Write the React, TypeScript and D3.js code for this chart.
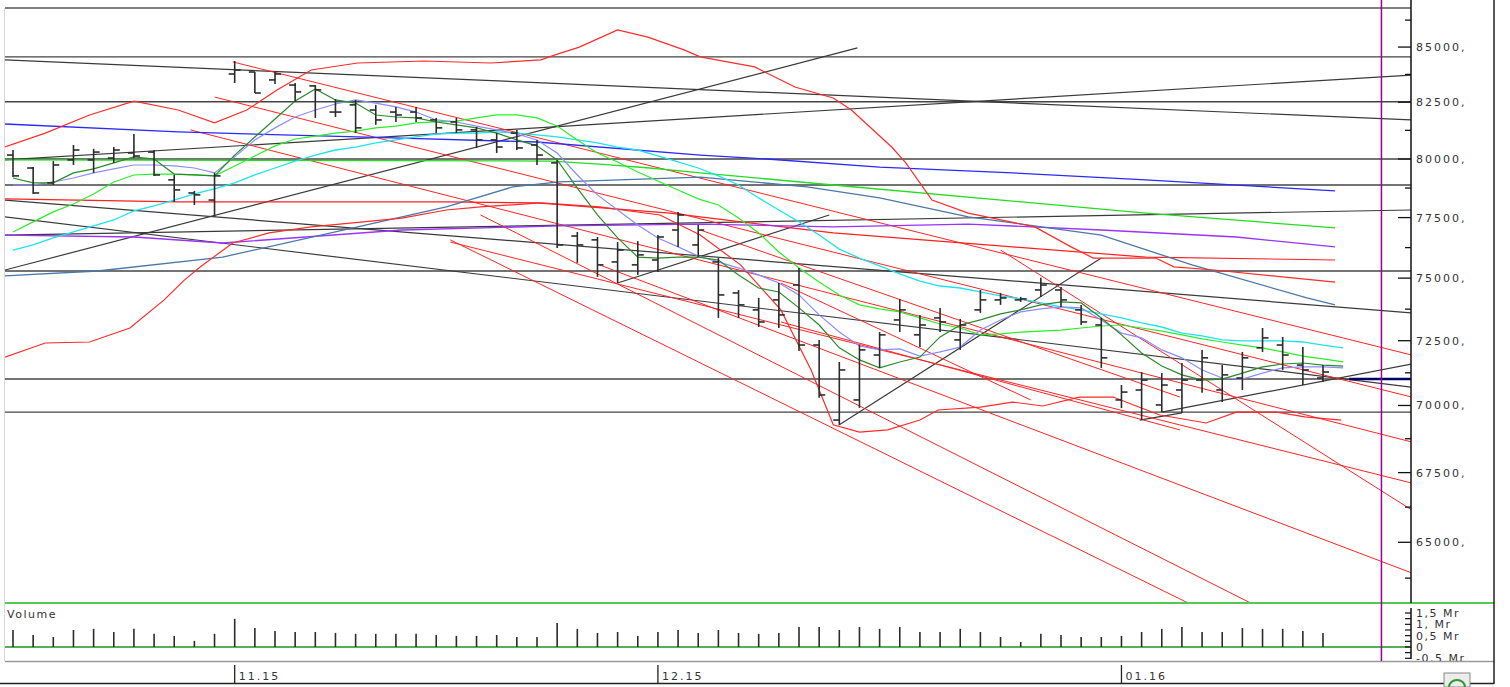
import React from "react";
import * as d3 from "d3";

type Pt = [number, number];

// daily bars, index 0 = first bar on the left
const highs = [80390, 79650, 79910, 80610, 80440, 80520, 81090, 80390, 79310, 78630, 79400, 84360, 83860, 83860, 83360, 83270, 82640, 82600, 82380, 82290, 82290, 81800, 81800, 81400, 81130, 81270, 80830, 79960, 76900, 76690, 76480, 76520, 76770, 77740, 77190, 75820, 74520, 74200, 74800, 75410, 72530, 71670, 72330, 72840, 74160, 73520, 73800, 73360, 74520, 74400, 74240, 75010, 74640, 73920, 73400, 70780, 71280, 71240, 71630, 72140, 71550, 72060, 73000, 72650, 72250, 71550];
const lows = [79220, 78500, 78880, 79740, 79400, 79830, 80040, 79270, 78160, 78030, 77530, 83360, 82910, 83320, 82510, 81800, 81840, 81130, 81490, 81620, 81620, 81130, 81130, 80480, 80260, 80390, 79740, 76230, 75620, 75050, 74800, 75130, 75250, 76280, 75870, 73400, 73400, 73040, 73000, 72100, 70290, 69260, 69910, 71440, 72840, 72250, 72840, 72140, 73600, 73920, 74040, 74240, 73840, 73120, 71440, 69900, 69450, 69750, 69720, 70480, 70130, 70590, 72060, 71360, 70780, 70900];
const opens = [80170, 79610, 78970, 79960, 79960, 80040, 80260, 80300, 79100, 78540, 78240, 83770, 83860, 83500, 83270, 83230, 82060, 82380, 82150, 82060, 82060, 81710, 81620, 81270, 80830, 81130, 80610, 79830, 76730, 76570, 75660, 75540, 75740, 76980, 76360, 75660, 74400, 73720, 74120, 74720, 72330, 69450, 70210, 71940, 73320, 72730, 73400, 72530, 73720, 74120, 74120, 74520, 74520, 73720, 73120, 70210, 70590, 70020, 70590, 70970, 70590, 71050, 72220, 72330, 71550, 71050];
const closes = [79270, 78540, 79740, 80390, 80300, 80390, 80130, 79310, 78670, 78460, 79270, 83950, 82910, 83770, 82960, 83050, 82060, 81360, 81710, 81930, 81800, 81360, 81270, 80830, 80520, 80480, 80170, 76360, 76360, 75540, 76150, 75950, 76690, 77610, 76980, 74320, 73920, 73240, 73520, 72330, 70400, 71360, 72140, 72730, 73720, 73120, 73240, 73120, 74120, 74200, 74160, 74720, 74120, 73240, 71830, 70510, 70970, 70780, 70970, 71830, 71170, 71830, 72610, 71940, 71360, 71280];
// volume in millions
const volumes = [0.75, 0.53, 0.44, 0.75, 0.8, 0.66, 0.8, 0.58, 0.49, 0.27, 0.58, 1.24, 0.84, 0.71, 0.66, 0.66, 0.62, 0.58, 0.58, 0.58, 0.58, 0.53, 0.49, 0.49, 0.53, 0.44, 0.44, 1.06, 0.8, 0.62, 0.66, 0.49, 0.66, 0.75, 0.62, 0.75, 0.62, 0.58, 0.62, 0.88, 0.88, 0.75, 0.88, 0.8, 0.88, 0.66, 0.66, 0.8, 0.66, 0.44, 0.22, 0.58, 0.53, 0.44, 0.44, 0.49, 0.66, 0.8, 0.88, 0.66, 0.66, 0.84, 0.8, 0.8, 0.71, 0.62];

// moving averages, one value per bar (0..66)
const maFast = [79180, 78970, 78970, 79400, 79570, 79830, 80090, 80000, 79350, 79310, 79270, 80170, 80960, 81750, 82550, 83090, 82600, 82460, 81930, 81840, 81800, 81620, 81490, 81360, 81130, 80830, 80570, 79960, 78750, 77610, 76650, 75860, 75820, 75860, 75860, 75740, 75130, 74600, 74440, 73800, 73120, 72220, 71750, 71440, 71670, 71860, 72650, 73120, 73320, 73560, 73720, 73920, 74040, 74000, 73400, 72730, 72020, 71510, 71170, 70970, 71010, 71240, 71480, 71590, 71630, 71550, 71510];
const maTen = [78880, 78880, 79010, 79180, 79400, 79570, 79740, 79740, 79700, 79610, 79400, 80090, 80830, 81360, 81840, 82150, 82420, 82600, 82460, 82290, 82060, 81710, 81620, 81440, 81270, 81090, 80830, 80260, 79310, 78460, 77820, 77190, 76650, 76280, 75900, 75660, 75410, 75130, 74800, 74320, 73520, 72840, 72290, 72140, 72180, 71900, 72060, 72250, 72920, 73320, 73640, 73760, 73840, 73800, 73320, 72800, 72610, 72140, 71830, 71360, 71050, 71010, 71240, 71440, 71480, 71480, 71440];
const maTwenty = [76900, 77320, 77740, 78070, 78500, 79010, 79310, 79350, 79350, 79310, 79270, 79700, 80130, 80570, 80870, 81000, 81130, 81220, 81360, 81440, 81580, 81620, 81660, 81800, 81930, 81930, 81800, 81440, 80830, 80260, 79870, 79440, 79050, 78670, 78290, 78030, 77480, 76860, 76070, 75410, 74840, 74320, 73920, 73760, 73640, 73400, 73160, 73000, 72730, 72770, 72840, 72880, 72920, 73000, 73080, 73120, 73000, 72880, 72730, 72570, 72450, 72330, 72220, 72060, 71900, 71790, 71670];
const maCyan = [76150, 76360, 76650, 76900, 77150, 77400, 77780, 77990, 78240, 78500, 78710, 78970, 79310, 79610, 79910, 80170, 80390, 80520, 80700, 80830, 80960, 81090, 81130, 81130, 81180, 81130, 81050, 80960, 80830, 80700, 80520, 80390, 80130, 79870, 79610, 79270, 78880, 78330, 77820, 77320, 76770, 76190, 75820, 75500, 75170, 74880, 74680, 74600, 74440, 74280, 74160, 74000, 73840, 73720, 73560, 73400, 73200, 73040, 72800, 72690, 72530, 72490, 72490, 72490, 72450, 72330, 72220];

// long averages, read at a few bar positions [bar, price]
const maBlue: Pt[] = [[-0.4, 81530], [8.2, 81180], [17.1, 80960], [26, 80740], [34.1, 80170], [37.4, 80000], [43, 79650], [49.6, 79400], [56.2, 79100], [65.6, 78630]];
const maLongGreen: Pt[] = [[-0.4, 79960], [26.7, 79910], [29.1, 79780], [31.6, 79610], [34.1, 79400], [40.7, 78880], [56.2, 77690], [65.6, 77070]];
const maPurple: Pt[] = [[-0.4, 76770], [6, 76690], [10.4, 76440], [19.3, 76980], [27.1, 77150], [34.1, 77230], [40.7, 77110], [47.4, 77230], [54, 76980], [60.7, 76690], [65.6, 76280]];
const maSteel: Pt[] = [[-0.4, 75090], [4.2, 75290], [10.4, 75860], [17.1, 77110], [21.5, 77950], [24.8, 78800], [27.1, 79010], [30.1, 79100], [34.1, 79220], [39.4, 78800], [43, 78330], [47.4, 77530], [54, 76770], [58.5, 75540], [64.2, 74200], [65.6, 73920]];
const maRed: Pt[] = [[-0.4, 78290], [8.2, 78160], [14.8, 78160], [21.5, 78160], [26, 78120], [32.6, 77690], [34.1, 77530], [40.7, 76860], [49.6, 76280], [56.2, 75860], [65.6, 75740]];
const bandUpper: Pt[] = [[-0.4, 80520], [1.6, 81130], [3.8, 81930], [6, 82550], [8.2, 82150], [10, 81580], [11.6, 82150], [13.1, 83050], [14.8, 83950], [17.1, 84270], [20.4, 84360], [23.7, 84270], [26.2, 84410], [26.9, 84640], [28.1, 85000], [30, 85790], [31.5, 85460], [33.3, 84870], [34.1, 84550], [36.8, 84090], [38.8, 83180], [40.7, 82690], [41.6, 82150], [43.6, 80520], [44.3, 79830], [45.6, 78240], [47.4, 77690], [50.7, 77110], [52.5, 76280], [53.6, 75820], [56.7, 75820], [57.6, 75460], [59.6, 75330], [65.6, 74840]];
const bandLower: Pt[] = [[-0.4, 71860], [1.6, 72410], [3.8, 72450], [5.8, 73000], [7.5, 74120], [8.5, 74920], [9.3, 75460], [10.9, 76440], [12.7, 76860], [14.8, 77110], [19.3, 77480], [21.5, 77820], [23.2, 77950], [26.2, 78120], [29.1, 77950], [32.1, 77610], [34.1, 76770], [36.1, 75540], [38.1, 73720], [39.6, 71360], [40.7, 69270], [42, 69000], [43.4, 69080], [45, 69450], [45.9, 69830], [48, 69940], [49.6, 70130], [51.1, 69980], [52.9, 70320], [54.6, 70320], [55.6, 70020], [56.9, 69640], [59.2, 69340], [60.7, 69750], [62.7, 69750], [64.1, 69570], [65.9, 69450]];

// drawn levels and trend lines
const levels = [84550, 82520, 80000, 78880, 75290, 71010, 69750];
const blackTrends: Pt[][] = [
  [[-0.4, 84410], [69.4, 81710]],
  [[-0.4, 75330], [41.9, 84960]],
  [[-0.4, 77530], [69.4, 70700]],
  [[-0.4, 76770], [69.4, 77820]],
  [[-0.4, 79960], [69.4, 83720]],
  [[-0.4, 78240], [69.4, 73600]],
  [[41, 69270], [54, 75820]],
  [[57, 69750], [69.4, 71590]],
  [[30, 74800], [40.5, 77610]],
  [[55.9, 69450], [58, 69720]],
];
const redTrends: Pt[][] = [
  [[10.9, 84320], [69.4, 71940]],
  [[10, 82730], [69.4, 70320]],
  [[8.8, 81270], [69.4, 68630]],
  [[21.7, 76570], [58.3, 62900]],
  [[23.2, 77610], [61.4, 62900]],
  [[29.1, 75540], [69.4, 63930]],
  [[21.7, 76480], [69.4, 67120]],
  [[49, 76150], [69.4, 66150]],
  [[34.1, 76980], [57.9, 70320]],
  [[38.1, 74800], [50.5, 70210]],
  [[38.1, 73240], [57.9, 69080]],
];
const lastLevel: Pt[] = [[66.3, 71010], [69.4, 71010]];

const priceTicks = [65000, 67500, 70000, 72500, 75000, 77500, 80000, 82500, 85000];
const volumeTicks = [1.5, 1, 0.5, 0, -0.5];
const volumeLabels = ["1,5 Mr", "1, Mr", "0,5 Mr", "0", "-0,5 Mr"];
const monthTicks = [{ bar: 11, label: "11.15" }, { bar: 32, label: "12.15" }, { bar: 55, label: "01.16" }];
const todayBar = 67.9;

const App = () => {
  const left = 5, right = 1411, top = 8, bottom = 603;
  const x = d3.scaleLinear().domain([0, 65]).range([13, 1323]);
  const y = d3.scaleLog().domain([62897, 86818]).range([bottom, top]);
  const vy = d3.scaleLinear().domain([-0.5, 1.5]).range([658.3, 613]);
  const byBar = d3.line<number>().x((_, i) => x(i)).y(d => y(d));
  const byPt = d3.line<Pt>().x(d => x(d[0])).y(d => y(d[1]));
  const minorPrice = d3.range(63750, 86818, 2500);
  const minorVol = d3.range(-0.5, 1.51, 0.25);
  const txt = { fontSize: 11, letterSpacing: 2, fill: "#333" };

  return (
    <svg width={1510} height={687} style={{ position: "absolute", left: 0, top: 0, background: "#fff" }} fontFamily="DejaVu Sans">
      <defs>
        <clipPath id="plot"><rect x={left} y={top} width={right - left} height={bottom - top} /></clipPath>
        <clipPath id="vol"><rect x={1411} y={603} width={80} height={58} /></clipPath>
      </defs>

      <g clipPath="url(#plot)" fill="none">
        {levels.map((p, i) => (
          <line key={i} x1={left} x2={right} y1={y(p)} y2={y(p)} stroke="#444" strokeWidth={1.4} />
        ))}
        {blackTrends.map((d, i) => <path key={i} d={byPt(d)!} stroke="#3a3a3a" strokeWidth={1.2} />)}
        {redTrends.map((d, i) => <path key={i} d={byPt(d)!} stroke="#ff2424" strokeWidth={1} />)}
        <path d={byPt(maRed)!} stroke="#ff2020" strokeWidth={1.2} />
        <path d={byPt(maBlue)!} stroke="#2a2aff" strokeWidth={1.3} />
        <path d={byPt(maLongGreen)!} stroke="#22dd22" strokeWidth={1.3} />
        <path d={byPt(maPurple)!} stroke="#9933ff" strokeWidth={1.3} />
        <path d={byPt(maSteel)!} stroke="#4a78a8" strokeWidth={1.3} />
        <path d={byPt(bandUpper)!} stroke="#ff2a2a" strokeWidth={1.2} />
        <path d={byPt(bandLower)!} stroke="#ff2a2a" strokeWidth={1.2} />
        <path d={byBar(maCyan)!} stroke="#1de3ee" strokeWidth={1.3} />
        <path d={byBar(maTwenty)!} stroke="#2aee2a" strokeWidth={1.2} />
        <path d={byBar(maTen)!} stroke="#8c8cff" strokeWidth={1.2} />
        <path d={byBar(maFast)!} stroke="#2a8a2a" strokeWidth={1.2} />
        <path d={byPt(lastLevel)!} stroke="#000066" strokeWidth={2.5} />

        {highs.map((h, i) => (
          <g key={i} stroke="#2b2b2b" strokeWidth={1.6}>
            <line x1={x(i)} x2={x(i)} y1={y(h)} y2={y(lows[i])} />
            <line x1={x(i) - 6} x2={x(i)} y1={y(opens[i])} y2={y(opens[i])} />
            <line x1={x(i)} x2={x(i) + 6} y1={y(closes[i])} y2={y(closes[i])} />
          </g>
        ))}
      </g>

      {/* frame */}
      <line x1={4.5} x2={4.5} y1={top} y2={661} stroke="#d8d8d8" />
      <line x1={left} x2={right} y1={top} y2={top} stroke="#555" strokeWidth={1.5} />
      <line x1={5} x2={1494} y1={603} y2={603} stroke="#55c855" strokeWidth={2} />
      <line x1={5} x2={1411} y1={647} y2={647} stroke="#55b055" strokeWidth={2} />
      <line x1={5} x2={1494} y1={661.5} y2={661.5} stroke="#9a9a9a" strokeWidth={1.5} />
      <line x1={0} x2={1494} y1={683.5} y2={683.5} stroke="#222" strokeWidth={1.5} />
      <line x1={1494} x2={1494} y1={0} y2={684} stroke="#222" strokeWidth={1.5} />
      <line x1={x(todayBar)} x2={x(todayBar)} y1={0} y2={661} stroke="#990099" strokeWidth={1.5} />

      {/* price axis */}
      <line x1={1411} x2={1411} y1={0} y2={bottom} stroke="#111" strokeWidth={1.5} />
      {minorPrice.map(p => (
        <line key={p} x1={1405} x2={1411} y1={y(p)} y2={y(p)} stroke="#111" strokeWidth={1.3} />
      ))}
      {priceTicks.map(p => (
        <g key={p}>
          <line x1={1398} x2={1411} y1={y(p)} y2={y(p)} stroke="#111" strokeWidth={1.3} />
          <text x={1416} y={y(p) + 4} {...txt}>{p + ","}</text>
        </g>
      ))}

      {/* volume */}
      <text x={7} y={618} {...txt} letterSpacing={1.5}>Volume</text>
      {volumes.map((v, i) => (
        <line key={i} x1={x(i)} x2={x(i)} y1={vy(0)} y2={vy(v)} stroke="#2b2b2b" strokeWidth={1.6} />
      ))}
      <line x1={1411} x2={1411} y1={608} y2={659} stroke="#111" strokeWidth={1.5} />
      {minorVol.map(v => (
        <line key={v} x1={1405} x2={1411} y1={vy(v)} y2={vy(v)} stroke="#111" strokeWidth={1.2} />
      ))}
      <g clipPath="url(#vol)">
        {volumeTicks.map((v, i) => (
          <g key={v}>
            <line x1={1401} x2={1411} y1={vy(v)} y2={vy(v)} stroke="#111" strokeWidth={1.2} />
            <text x={1416} y={vy(v) + 4} {...txt} letterSpacing={1.5}>{volumeLabels[i]}</text>
          </g>
        ))}
      </g>

      {/* date axis */}
      {monthTicks.map(m => (
        <g key={m.label}>
          <line x1={x(m.bar)} x2={x(m.bar)} y1={665} y2={683} stroke="#222" strokeWidth={1.3} />
          <text x={x(m.bar) + 4} y={680} {...txt}>{m.label}</text>
        </g>
      ))}
      <rect x={1444} y={673} width={26} height={14} fill="#ececec" stroke="#888" />
      <path d="M1449,687 A8,7 0 0 1 1465,687" fill="none" stroke="#2a9a2a" strokeWidth={2} />
    </svg>
  );
};

export default App;
